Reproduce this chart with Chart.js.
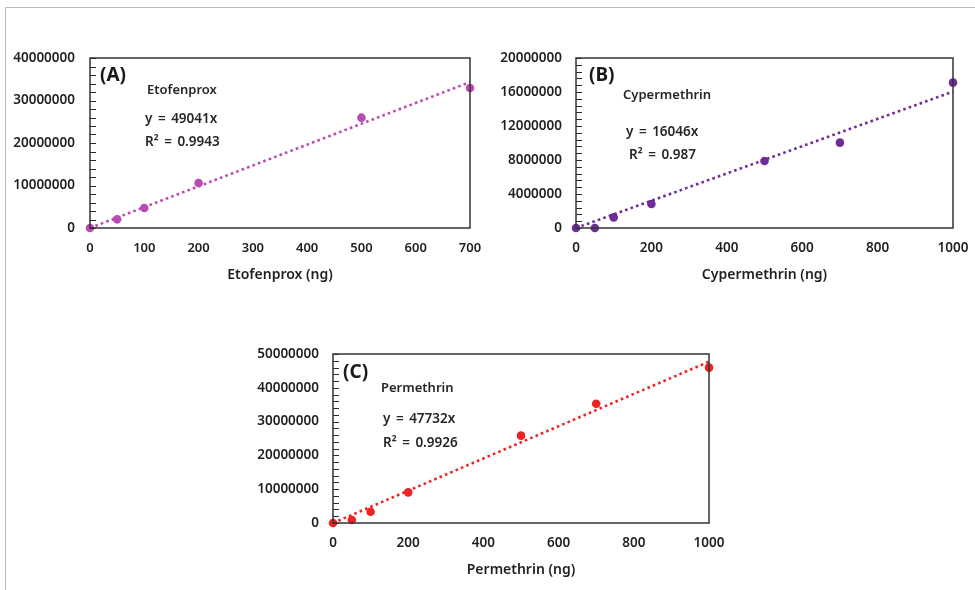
<!DOCTYPE html>
<html>
<head>
<meta charset="utf-8">
<script src="https://cdn.jsdelivr.net/npm/chart.js@4.4.1/dist/chart.umd.min.js"></script>
<style>
  html, body { margin: 0; padding: 0; background: #fff; }
  body { width: 975px; height: 590px; position: relative; overflow: hidden; font-family: "Noto Sans", "Open Sans", sans-serif; }
  .frame { position: absolute; left: 5px; top: 7px; width: 975px; height: 590px; border-top: 1px solid #bdbdbd; border-left: 1px solid #bdbdbd; }
  .box { position: absolute; }
  .note { position: absolute; color: #262626; font-weight: 600; white-space: nowrap; line-height: 1; word-spacing: 2px; }
  .tag { font-size: 19px; font-weight: 700; color: #1a1a1a; word-spacing: 0; }
  .name { font-size: 13px; word-spacing: 0; }
  .eq { font-size: 13.5px; }
</style>
</head>
<body>
<div class="frame"></div>

<div class="box" style="left:0px;top:40px;width:490px;height:250px;"><canvas id="chartA"></canvas></div>
<div class="box" style="left:490px;top:40px;width:485px;height:250px;"><canvas id="chartB"></canvas></div>
<div class="box" style="left:250px;top:335px;width:480px;height:250px;"><canvas id="chartC"></canvas></div>

<!-- panel A notes -->
<div class="note tag"  style="left:100px;top:65px;">(A)</div>
<div class="note name" style="left:147px;top:83px;">Etofenprox</div>
<div class="note eq"   style="left:145px;top:112px;">y = 49041x</div>
<div class="note eq"   style="left:145px;top:135px;">R² = 0.9943</div>

<!-- panel B notes -->
<div class="note tag"  style="left:589px;top:65px;">(B)</div>
<div class="note name" style="left:623px;top:88px;">Cypermethrin</div>
<div class="note eq"   style="left:626px;top:125px;">y = 16046x</div>
<div class="note eq"   style="left:629px;top:148px;">R² = 0.987</div>

<!-- panel C notes -->
<div class="note tag"  style="left:343px;top:362px;">(C)</div>
<div class="note name" style="left:381px;top:381px;">Permethrin</div>
<div class="note eq"   style="left:383px;top:412px;">y = 47732x</div>
<div class="note eq"   style="left:383px;top:436px;">R² = 0.9926</div>

<script>
// Calibration data (amount in ng vs. peak area)
const etofenproxNg   = [0, 50, 100, 200, 500, 700];
const etofenproxArea = [0, 2040000, 4700000, 10600000, 25960000, 32940000];

const cypermethrinNg   = [0, 50, 100, 200, 500, 700, 1000];
const cypermethrinArea = [0, 0, 1250000, 2820000, 7880000, 10040000, 17100000];

const permethrinNg   = [0, 50, 100, 200, 500, 700, 1000];
const permethrinArea = [0, 890000, 3350000, 9070000, 25840000, 35300000, 45960000];

// Linear fits through the origin (y = slope * x)
const etofenproxSlope   = 49041;
const cypermethrinSlope = 16046;
const permethrinSlope   = 47732;

// Axis ranges and tick steps
const xMaxA = 700,  xStepA = 100;
const yMaxA = 40000000, yMajorA = 10000000;
const xMaxB = 1000, xStepB = 200;
const yMaxB = 20000000, yMajorB = 4000000;
const xMaxC = 1000, xStepC = 200;
const yMaxC = 50000000, yMajorC = 10000000;

const FONT = '"Noto Sans", "Open Sans", sans-serif';
const INK = '#1f1f1f';

// Plot frame + short inward tick marks on the value axis
const frameAndTicks = {
  id: 'frameAndTicks',
  afterDraw(chart) {
    const { ctx, chartArea: a } = chart;
    const ys = chart.scales.y;
    const step = ys.options.ticks.stepSize;
    ctx.save();
    ctx.strokeStyle = '#2b2b2b';
    ctx.lineWidth = 1;
    const n = Math.round(ys.max / step);
    for (let i = 0; i <= n; i++) {
      const py = Math.round(ys.getPixelForValue(i * step)) + 0.5;
      ctx.beginPath();
      ctx.moveTo(a.left, py);
      ctx.lineTo(a.left + 6, py);
      ctx.stroke();
    }
    ctx.strokeStyle = '#333';
    ctx.lineWidth = 1.5;
    ctx.strokeRect(a.left, a.top, a.right - a.left, a.bottom - a.top);
    ctx.restore();
  }
};

// Let the layout padding alone decide where the plot box sits
function noLabelPadding(s) {
  s.paddingTop = 0; s.paddingBottom = 0; s.paddingLeft = 0; s.paddingRight = 0;
}

function pairs(xs, ys) { return xs.map((x, i) => ({ x, y: ys[i] })); }

function buildChart(id, cfg) {
  const color = cfg.color;
  return new Chart(document.getElementById(id), {
    data: {
      datasets: [
        {
          type: 'line',
          data: [{ x: 0, y: 0 }, { x: cfg.xMax, y: cfg.slope * cfg.xMax }],
          borderColor: color,
          borderWidth: 2.6,
          borderDash: [2.6, 3.2],
          pointRadius: 0,
          fill: false,
          order: 2
        },
        {
          type: 'scatter',
          data: pairs(cfg.xs, cfg.ys),
          backgroundColor: color,
          borderColor: color,
          pointRadius: 4.3,
          pointBorderWidth: 0,
          clip: false,
          order: 1
        }
      ]
    },
    options: {
      responsive: true,
      maintainAspectRatio: false,
      animation: false,
      events: [],
      layout: { autoPadding: false, padding: { left: 0, right: cfg.padRight, top: cfg.padTop, bottom: 0 } },
      plugins: { legend: { display: false }, tooltip: { enabled: false } },
      scales: {
        x: {
          type: 'linear',
          min: 0, max: cfg.xMax,
          border: { display: false },
          grid: { display: false, drawTicks: false },
          ticks: {
            stepSize: cfg.xStep,
            padding: 12,
            color: INK,
            font: { family: FONT, size: cfg.xFont, weight: '600' },
            maxRotation: 0,
            autoSkip: false,
            callback: v => String(v)
          },
          title: {
            display: true,
            text: cfg.title,
            color: INK,
            font: { family: FONT, size: 14, weight: '600' },
            padding: { top: 0, bottom: 7 }
          },
          afterFit(s) { s.height = 62; noLabelPadding(s); }
        },
        y: {
          type: 'linear',
          min: 0, max: cfg.yMax,
          border: { display: false },
          grid: { display: false, drawTicks: false },
          ticks: {
            stepSize: cfg.yMajor / 5,
            padding: cfg.yPad,
            color: INK,
            autoSkip: false,
            font: { family: FONT, size: 13.5, weight: '600' },
            callback: v => (v % cfg.yMajor === 0 ? String(v) : '')
          },
          afterFit(s) { s.width = cfg.yWidth; noLabelPadding(s); }
        }
      }
    },
    plugins: [frameAndTicks]
  });
}

buildChart('chartA', {
  xs: etofenproxNg, ys: etofenproxArea, slope: etofenproxSlope,
  xMax: xMaxA, xStep: xStepA, yMax: yMaxA, yMajor: yMajorA,
  color: '#b94bb2', title: 'Etofenprox (ng)',
  yWidth: 90, yPad: 15, padRight: 20, padTop: 18, xFont: 13
});
buildChart('chartB', {
  xs: cypermethrinNg, ys: cypermethrinArea, slope: cypermethrinSlope,
  xMax: xMaxB, xStep: xStepB, yMax: yMaxB, yMajor: yMajorB,
  color: '#6d2c98', title: 'Cypermethrin (ng)',
  yWidth: 86, yPad: 14, padRight: 22, padTop: 18, xFont: 13.5
});
buildChart('chartC', {
  xs: permethrinNg, ys: permethrinArea, slope: permethrinSlope,
  xMax: xMaxC, xStep: xStepC, yMax: yMaxC, yMajor: yMajorC,
  color: '#ee2424', title: 'Permethrin (ng)',
  yWidth: 83, yPad: 14, padRight: 21, padTop: 19, xFont: 13.5
});
</script>
</body>
</html>
